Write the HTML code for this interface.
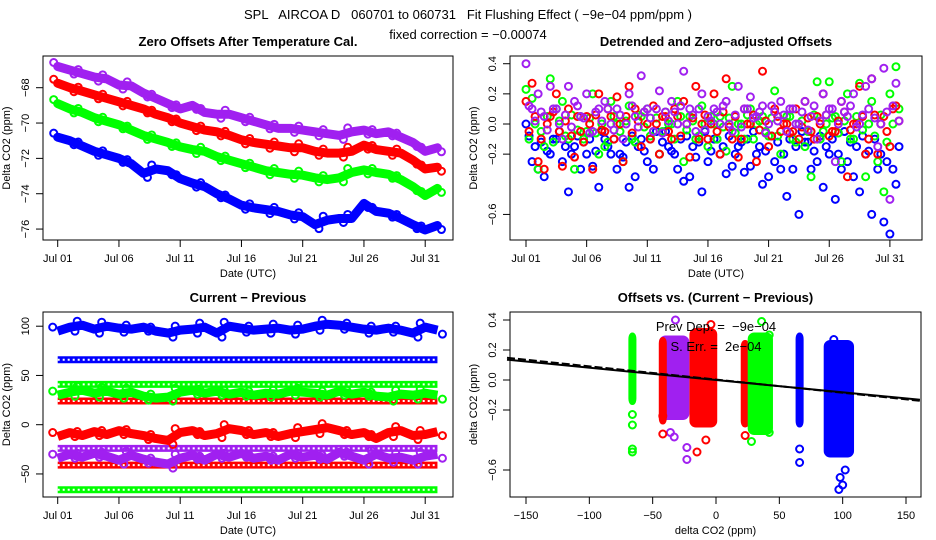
<!DOCTYPE html>
<html><head><meta charset="utf-8"><style>
body{margin:0;background:#fff}
svg{display:block;font-family:"Liberation Sans",sans-serif}
text{white-space:pre}
.t{font-size:11px}
.b{font-size:13px;font-weight:bold}
</style></head><body>
<svg id="s" width="936" height="540" viewBox="0 0 936 540" xmlns="http://www.w3.org/2000/svg">
<rect width="936" height="540" fill="#fff"/>
<text x="468" y="19" text-anchor="middle" font-size="13">SPL   AIRCOA D   060701 to 060731   Fit Flushing Effect ( −9e−04 ppm/ppm )</text>
<text x="468" y="39" text-anchor="middle" font-size="13">fixed correction = −0.00074</text>
<g id="g1"></g>
<g id="g2"></g>
<g id="g3"></g>
<g id="g4"></g>
</svg>
<script>
// ---- data ----
const seriesColors=["#a020f0","#ff0000","#00ff00","#0000ff"];
const p1Purple=[-66.8,-67.0,-67.2,-67.4,-67.5,-67.85,-67.9,-68.3,-68.6,-68.9,-69.2,-69.0,-69.4,-69.5,-69.5,-69.7,-69.9,-70.1,-70.3,-70.3,-70.4,-70.5,-70.6,-70.7,-70.5,-70.4,-70.6,-70.5,-70.8,-71.1,-71.6,-71.4];
const p1Red=[-67.75,-68.0,-68.2,-68.4,-68.6,-68.8,-69.0,-69.2,-69.5,-69.7,-70.0,-70.2,-70.4,-70.5,-70.7,-70.95,-71.1,-71.2,-71.3,-71.4,-71.4,-71.6,-71.7,-71.7,-71.6,-71.25,-71.5,-71.6,-71.7,-72.1,-72.6,-72.5];
const p1Green=[-68.9,-69.2,-69.4,-69.7,-69.9,-70.1,-70.4,-70.7,-70.9,-71.1,-71.35,-71.5,-71.6,-71.9,-72.1,-72.3,-72.5,-72.7,-72.8,-72.9,-72.95,-73.1,-73.2,-73.1,-72.8,-72.65,-72.8,-72.9,-73.2,-73.6,-74.1,-73.7];
const p1Blue=[-70.8,-71.0,-71.3,-71.6,-71.8,-72.0,-72.3,-72.85,-72.6,-72.7,-73.15,-73.4,-73.6,-74.0,-74.3,-74.65,-74.8,-74.9,-75.0,-75.2,-75.3,-75.75,-75.5,-75.4,-75.4,-74.55,-75.0,-75.1,-75.4,-75.75,-76.05,-75.8];
const dateTicks=[1,6,11,16,21,26,31];
const dateLabels=["Jul 01","Jul 06","Jul 11","Jul 16","Jul 21","Jul 26","Jul 31"];
const p1YTicks=[-68,-70,-72,-74,-76];
const p2Blue=[0.0,-0.25,-0.3,-0.35,-0.2,-0.1,-0.25,-0.45,-0.15,-0.3,-0.2,-0.28,-0.42,-0.1,-0.2,-0.3,-0.22,-0.42,-0.35,-0.1,-0.25,-0.3,-0.2,-0.05,-0.18,-0.3,-0.38,-0.35,-0.22,-0.45,-0.25,-0.1,-0.2,-0.33,-0.28,-0.15,-0.32,-0.28,-0.2,-0.4,-0.35,-0.25,-0.3,-0.48,-0.3,-0.6,-0.12,-0.3,-0.25,-0.42,-0.2,-0.5,-0.3,-0.25,-0.35,-0.45,-0.2,-0.6,-0.3,-0.65,-0.73,-0.4];
const p2Blue2=[-0.08,-0.15,-0.12,-0.18,-0.1,-0.05,-0.15,-0.2,-0.08,-0.12,-0.1,-0.18,-0.05,-0.15,-0.1,-0.2,-0.12,-0.08,-0.15,-0.18,-0.1,-0.05,-0.12,-0.15,-0.2,-0.1,-0.08,-0.15,-0.12,-0.05,-0.18,-0.1,-0.15,-0.08,-0.2,-0.12,-0.1,-0.05,-0.15,-0.18,-0.08,-0.12,-0.2,-0.1,-0.15,-0.05,-0.12,-0.18,-0.08,-0.15,-0.1,-0.2,-0.05,-0.12,-0.15,-0.08,-0.18,-0.1,-0.2,-0.25,-0.3,-0.15];
const p2Red=[0.15,0.27,-0.25,-0.3,0.05,0.2,-0.28,0.1,-0.22,-0.05,0.05,-0.3,0.2,-0.05,0.05,0.18,-0.25,0.25,0.1,-0.15,0.0,0.12,-0.2,0.05,-0.1,0.05,0.15,-0.22,0.25,0.0,-0.1,0.2,-0.2,0.3,-0.1,-0.22,0.1,0.0,-0.25,0.35,-0.15,0.1,-0.05,0.0,-0.05,-0.1,0.15,-0.05,0.05,0.2,-0.08,-0.05,0.15,-0.35,0.0,0.25,-0.2,0.3,-0.2,0.05,-0.15,0.12];
const p2Red2=[-0.05,0.05,-0.1,0.0,0.08,-0.05,0.02,-0.08,0.05,-0.12,0.0,0.06,-0.04,0.1,-0.1,0.0,0.05,-0.06,0.02,0.08,-0.1,0.0,0.05,-0.05,0.1,-0.08,0.0,0.04,-0.1,0.06,0.0,-0.05,0.08,-0.02,0.05,-0.1,0.0,0.06,-0.04,0.02,-0.08,0.05,0.0,-0.06,0.1,-0.02,0.04,-0.1,0.0,0.06,-0.05,0.02,0.08,-0.04,0.0,0.05,-0.1,0.06,0.0,-0.05,0.1,0.02];
const p2Green=[0.23,0.17,-0.3,-0.15,0.3,0.1,0.15,-0.1,-0.3,0.05,-0.05,0.2,-0.2,-0.15,0.15,0.0,-0.25,0.12,-0.12,0.05,0.1,-0.05,-0.2,0.08,0.0,0.15,-0.25,0.05,-0.1,0.12,-0.15,0.0,0.05,-0.18,0.25,0.0,-0.1,0.1,0.0,0.05,-0.08,0.22,-0.2,0.05,-0.1,0.0,-0.15,-0.35,0.28,-0.05,0.28,0.05,-0.25,0.2,-0.1,0.27,-0.35,0.15,-0.25,-0.45,0.2,0.38];
const p2Green2=[-0.1,0.0,-0.05,0.05,-0.12,0.02,-0.08,0.06,-0.04,-0.1,0.04,-0.06,0.0,-0.12,0.05,-0.05,0.02,-0.1,0.06,-0.02,-0.08,0.04,-0.05,0.0,-0.1,0.05,-0.04,0.02,-0.08,0.0,0.05,-0.1,-0.02,0.04,-0.06,0.0,0.06,-0.1,0.02,-0.05,0.04,-0.08,0.0,0.05,-0.12,0.02,-0.05,0.06,-0.1,0.0,0.04,-0.06,0.02,-0.1,0.05,-0.04,0.0,-0.08,0.06,-0.12,0.0,0.1];
const p2Purple=[0.4,0.1,0.2,0.05,0.25,0.1,-0.1,0.25,0.15,0.05,0.2,-0.05,0.1,0.15,0.0,0.1,-0.1,0.2,0.05,0.32,0.1,-0.05,0.22,0.08,0.15,0.0,0.35,0.1,-0.05,0.2,0.05,0.1,0.0,0.15,-0.05,0.25,0.1,0.18,0.05,0.12,0.0,0.08,0.15,-0.05,0.1,0.0,0.15,0.05,-0.1,0.2,0.1,-0.25,0.15,0.05,0.2,0.0,0.25,0.3,-0.15,0.37,-0.5,0.27];
const p2Purple2=[0.12,0.02,0.08,-0.04,0.1,0.0,0.06,-0.02,0.12,0.04,-0.06,0.08,0.02,0.1,-0.04,0.06,0.0,0.12,-0.02,0.08,0.04,0.1,-0.06,0.02,0.08,0.12,0.0,0.06,0.1,-0.04,0.02,0.08,0.12,0.0,0.06,-0.02,0.1,0.04,0.08,-0.06,0.12,0.02,0.06,0.1,0.0,0.08,-0.04,0.12,0.02,0.06,0.1,0.0,0.08,0.12,-0.02,0.06,0.1,0.04,0.0,0.08,0.12,0.02];
const p2YTicks=[0.4,0.2,0.0,-0.2,-0.6];
const p2YLabels=["0.4","0.2","0.0","-0.2","-0.6"];
const p3Blue=[95,99,101,97,100,98,97,99,95,93,96,97,99,93,100,98,96,97,98,96,97,100,102,101,99,97,96,98,96,93,99,96];
const p3Green=[30,33,35,32,34,31,33,29,27,28,33,35,32,34,31,33,30,32,31,34,33,32,30,34,31,33,29,28,31,30,32,30];
const p3Red=[-12,-8,-11,-7,-10,-6,-9,-11,-14,-16,-8,-6,-11,-9,-4,-6,-10,-8,-12,-9,-7,-5,-3,-6,-10,-8,-14,-8,-6,-11,-10,-7];
const p3Purple=[-34,-30,-33,-29,-32,-36,-31,-35,-38,-40,-34,-31,-36,-30,-33,-29,-34,-32,-36,-30,-33,-31,-35,-28,-32,-36,-30,-34,-33,-36,-32,-30];
const p3FlatLevels=[66,41,24,-24,-41,-66];
const p3FlatColor=[3,2,1,0,1,2];
const p3YTicks=[100,50,0,-50];
const clusterX=[-66,-33,-42,-10,23,35,66,97];
const clusterHalfW=[1.2,10,1.2,9,1.5,8,1.2,10];
const clusterTop=[0.3,0.28,0.27,0.33,0.25,0.3,0.3,0.25];
const clusterBottom=[-0.15,-0.25,-0.28,-0.3,-0.3,-0.35,-0.3,-0.5];
const clusterColor=[2,0,1,1,1,2,3,3];
const outX=[-66,-66,-66,-66,-36,-33,-23,-23,-32,-42,-42,-15,-8,-4,23,28,36,42,42,66,66,98,100,97,102,93];
const outY=[-0.23,-0.3,-0.46,-0.48,-0.35,-0.38,-0.45,-0.53,0.4,-0.36,-0.24,-0.48,-0.4,0.37,-0.37,-0.41,0.39,0.3,-0.35,-0.46,-0.55,-0.65,-0.7,-0.73,-0.6,0.27];
const outColor=[2,2,2,2,0,0,0,0,0,1,1,1,1,1,1,2,2,2,2,3,3,3,3,3,3,3];
const fitSlope=[-0.00082,-0.00088];
const fitIntercept=[0.0,0.003];
const p4XTicks=[-150,-100,-50,0,50,100,150];
const p4YTicks=[0.4,0.2,0.0,-0.2,-0.6];
const p4YLabels=["0.4","0.2","0.0","-0.2","-0.6"];

const NS="http://www.w3.org/2000/svg";
function mk(parent,tag,attrs,text){const e=document.createElementNS(NS,tag);for(const k in attrs)e.setAttribute(k,attrs[k]);if(text!==undefined)e.textContent=text;parent.appendChild(e);return e;}

function frame(g,box,title,xlab,ylab,xt,xlabels,xs,yt,ylabels,ys){
  const r=mk(g,'rect',{x:box[0],y:box[1],width:box[2]-box[0],height:box[3]-box[1],fill:'none',stroke:'#000','stroke-width':1});
  
  
  const t=mk(g,'text',{x:(box[0]+box[2])/2,y:box[1]-10,'text-anchor':'middle',class:'b'},title);
  
  
  mk(g,'line',{x1:xs(xt[0]),x2:xs(xt[xt.length-1]),y1:box[3],y2:box[3],stroke:'#000'});
  xt.forEach((v,i)=>{const x=xs(v);mk(g,'line',{x1:x,x2:x,y1:box[3],y2:box[3]+7,stroke:'#000'});
    const l=mk(g,'text',{x:x,y:box[3]+22,'text-anchor':'middle',class:'t'},xlabels[i]);
    
    });
  yt.forEach((v,i)=>{const y=ys(v);mk(g,'line',{x1:box[0]-7,x2:box[0],y1:y,y2:y,stroke:'#000'});
    const l=mk(g,'text',{x:box[0]-14,y:y,'text-anchor':'middle',class:'t',transform:`rotate(-90 ${box[0]-14} ${y})`},ylabels[i]);
    
    });
  const xl=mk(g,'text',{x:(box[0]+box[2])/2,y:box[3]+37,'text-anchor':'middle',class:'t'},xlab);
  
  
  const cy=(box[1]+box[3])/2, cx=box[0]-33;
  const yl=mk(g,'text',{x:cx,y:cy,'text-anchor':'middle',class:'t',transform:`rotate(-90 ${cx} ${cy})`},ylab);
  
  
}

// Panel 1
(function(){
  const g=document.getElementById('g1');const box=[43,56,453,240];
  const xs=d=>57.7+(d-1)*12.25, ys=v=>87.7+(-68-v)*17.67;
  frame(g,box,"Zero Offsets After Temperature Cal.","Date (UTC)","Delta CO2 (ppm)",dateTicks,dateLabels,xs,p1YTicks,p1YTicks.map(v=>String(v).replace('-','−')),ys);
  [[p1Purple,0],[p1Red,1],[p1Green,2],[p1Blue,3]].forEach(([arr,c])=>{
    const pts=arr.map((v,i)=>xs(i+1)+','+ys(v)).join(' ');
    const pl=mk(g,'polyline',{points:pts,fill:'none',stroke:seriesColors[c],'stroke-width':9,'stroke-linejoin':'round','stroke-linecap':'round'});
    
    
    arr.forEach((v,i)=>{const p=mk(g,'circle',{cx:xs(i+1)+((i%2)?4:-4),cy:ys(v)+((i%2)?4:-4),r:3.5,fill:'none',stroke:seriesColors[c],'stroke-width':2});
      
      });
  });
})();

// Panel 2
(function(){
  const g=document.getElementById('g2');const box=[510,56,922,240];
  const xs=d=>526+(d-1)*12.13, ys=v=>124-v*150.7;
  frame(g,box,"Detrended and Zero−adjusted Offsets","Date (UTC)","Delta CO2 (ppm)",dateTicks,dateLabels,xs,p2YTicks,p2YLabels.map(s=>s.replace('-','−')),ys);
  [[p2Blue,3,0],[p2Blue2,3,0.25],[p2Green,2,0],[p2Green2,2,0.25],[p2Red,1,0],[p2Red2,1,0.25],[p2Purple,0,0],[p2Purple2,0,0.25]].forEach(([arr,c,off])=>{
    arr.forEach((v,i)=>{const p=mk(g,'circle',{cx:xs(1+i*0.5+off),cy:ys(v),r:3.5,fill:'none',stroke:seriesColors[c],'stroke-width':2});
      
      });
  });
})();

// Panel 3
(function(){
  const g=document.getElementById('g3');const box=[43,312,453,497];
  const xs=d=>57.7+(d-1)*12.25, ys=v=>424.7-v*0.985;
  frame(g,box,"Current − Previous","Date (UTC)","Delta CO2 (ppm)",dateTicks,dateLabels,xs,p3YTicks,p3YTicks.map(v=>String(v).replace('-','−')),ys);
  p3FlatLevels.forEach((v,i)=>{const col=seriesColors[p3FlatColor[i]];
    const l=mk(g,'line',{x1:xs(1),x2:xs(32),y1:ys(v),y2:ys(v),stroke:col,'stroke-width':7});
    
    
    mk(g,'line',{x1:xs(1),x2:xs(32),y1:ys(v),y2:ys(v),stroke:'#fff','stroke-width':2,'stroke-dasharray':'2 3'});
  });
  [[p3Blue,3],[p3Green,2],[p3Red,1],[p3Purple,0]].forEach(([arr,c])=>{
    const pts=arr.map((v,i)=>xs(i+1)+','+ys(v)).join(' ');
    const pl=mk(g,'polyline',{points:pts,fill:'none',stroke:seriesColors[c],'stroke-width':9,'stroke-linejoin':'round'});
    
    
    arr.forEach((v,i)=>{const p=mk(g,'circle',{cx:xs(i+1)+((i%2)?5:-5),cy:ys(v)+((i%2)?4:-4),r:3.5,fill:'none',stroke:seriesColors[c],'stroke-width':2});
      
      });
  });
})();

// Panel 4
(function(){
  const g=document.getElementById('g4');const box=[510,312,921,497];
  const xs=v=>716+v*1.2667, ys=v=>380-v*150;
  frame(g,box,"Offsets vs. (Current − Previous)","delta CO2 (ppm)","delta CO2 (ppm)",p4XTicks,p4XTicks.map(v=>String(v).replace('-','−')),xs,p4YTicks,p4YLabels.map(s=>s.replace('-','−')),ys);
  clusterX.forEach((x,i)=>{const col=seriesColors[clusterColor[i]];
    const r=mk(g,'rect',{x:xs(x-clusterHalfW[i]),y:ys(clusterTop[i]),width:xs(x+clusterHalfW[i])-xs(x-clusterHalfW[i]),height:ys(clusterBottom[i])-ys(clusterTop[i]),fill:col,stroke:col,'stroke-width':5,rx:4});
    
    });
  outX.forEach((x,i)=>{const p=mk(g,'circle',{cx:xs(x),cy:ys(outY[i]),r:3.5,fill:'none',stroke:seriesColors[outColor[i]],'stroke-width':2});
    
    });
  fitSlope.forEach((b,i)=>{const x0=-165,x1=161;
    const l=mk(g,'line',{x1:xs(x0),x2:xs(x1),y1:ys(fitIntercept[i]+b*x0),y2:ys(fitIntercept[i]+b*x1),stroke:'#000','stroke-width':2,'stroke-dasharray':i?'8 3':'none'});
    
    });
  const t1=mk(g,'text',{x:716,y:331,'text-anchor':'middle','font-size':13},"Prev Dep. =  −9e−04");
  
  
  const t2=mk(g,'text',{x:716,y:351,'text-anchor':'middle','font-size':13},"S. Err. =  2e−04");
  
  
})();
</script>
</body></html>
